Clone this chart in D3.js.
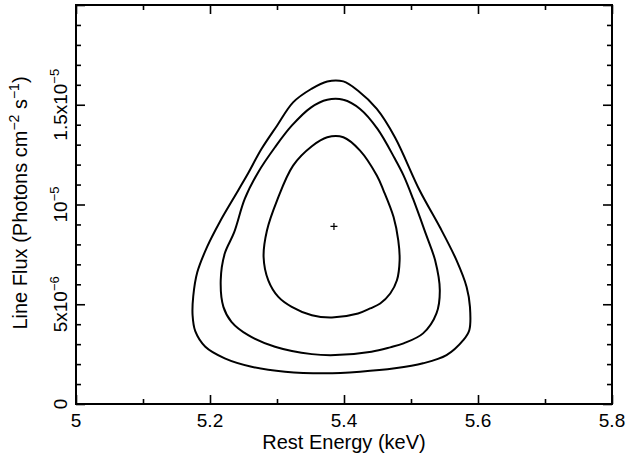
<!DOCTYPE html>
<html><head><meta charset="utf-8">
<script src="https://cdn.jsdelivr.net/npm/d3@7"></script>
<style>body{margin:0;background:#fff} text{font-family:"Liberation Sans",Arial,sans-serif;fill:#000}</style>
</head><body><svg id="c" width="626" height="456"></svg>
<script>
// Contour points: [Rest Energy (keV), Line Flux (units of 1e-6 photons cm^-2 s^-1)]
const contourOuter = [[5.375,16.17],[5.399,16.17],[5.421,15.70],[5.449,14.79],[5.476,13.37],[5.513,10.70],[5.543,8.87],[5.568,7.20],[5.583,5.87],[5.588,4.87],[5.587,3.70],[5.578,3.20],[5.553,2.45],[5.518,2.04],[5.476,1.79],[5.424,1.62],[5.372,1.54],[5.312,1.62],[5.262,1.87],[5.222,2.29],[5.193,2.87],[5.178,3.65],[5.174,4.45],[5.175,5.40],[5.181,6.60],[5.196,7.90],[5.215,9.15],[5.234,10.25],[5.255,11.45],[5.277,12.79],[5.300,13.95],[5.324,15.12],[5.351,15.79]];
const contourMiddle = [[5.375,15.25],[5.399,15.25],[5.424,14.79],[5.450,13.79],[5.476,12.29],[5.489,11.45],[5.503,10.29],[5.522,8.54],[5.536,7.20],[5.543,5.70],[5.538,4.54],[5.518,3.54],[5.489,3.04],[5.469,2.84],[5.441,2.62],[5.387,2.45],[5.352,2.50],[5.297,2.87],[5.257,3.45],[5.232,4.12],[5.220,4.87],[5.216,6.20],[5.222,7.54],[5.236,8.60],[5.252,10.29],[5.272,11.62],[5.297,12.87],[5.322,13.95],[5.351,14.87]];
const contourInner = [[5.375,13.37],[5.399,13.37],[5.424,12.70],[5.449,11.45],[5.459,10.70],[5.474,9.37],[5.481,8.20],[5.483,7.20],[5.479,6.20],[5.469,5.54],[5.454,5.04],[5.439,4.79],[5.421,4.54],[5.382,4.34],[5.352,4.45],[5.322,4.87],[5.302,5.37],[5.287,6.20],[5.280,7.37],[5.285,8.70],[5.300,10.20],[5.324,11.95],[5.352,12.92]];
const bestFit = [5.385, 8.9];
const xTicks = [5, 5.2, 5.4, 5.6, 5.8];
const xTickLabels = ["5", "5.2", "5.4", "5.6", "5.8"];
const xMinorTicks = [5.1, 5.3, 5.5, 5.7];
const yTicks = [0, 5, 10, 15];
const yTickLabels = [["0", ""], ["5x10", "−6"], ["10", "−5"], ["1.5x10", "−5"]];
const yMinorTicks = [1,2,3,4,6,7,8,9,11,12,13,14,16,17,18,19];
const xTitle = "Rest Energy (keV)";
const yTitleParts = [["Line Flux (Photons cm", false], ["−2", true], [" s", false], ["−1", true], [")", false]];

const L = 76, R = 612, T = 5, B = 404;
const svg = d3.select("#c");
const x = d3.scaleLinear().domain([5, 5.8]).range([L, R]);
const y = d3.scaleLinear().domain([0, 20]).range([B, T]);

function ticks(axisFn, vals, size, transform) {
  const g = svg.append("g").attr("transform", transform)
    .call(axisFn.tickValues(vals).tickSize(size).tickFormat(""));
  g.select(".domain").remove();
  g.selectAll("line").attr("stroke", "#000").attr("stroke-width", 1.6);
}
ticks(d3.axisBottom(x), xTicks, -9, `translate(0,${B})`);
ticks(d3.axisBottom(x), xMinorTicks, -5, `translate(0,${B})`);
ticks(d3.axisTop(x), xTicks, -9, `translate(0,${T})`);
ticks(d3.axisTop(x), xMinorTicks, -5, `translate(0,${T})`);
ticks(d3.axisLeft(y), yTicks.concat([20]), -9, `translate(${L},0)`);
ticks(d3.axisLeft(y), yMinorTicks, -5, `translate(${L},0)`);
ticks(d3.axisRight(y), yTicks.concat([20]), -9, `translate(${R},0)`);
ticks(d3.axisRight(y), yMinorTicks, -5, `translate(${R},0)`);

svg.append("rect").attr("x", L).attr("y", T).attr("width", R - L).attr("height", B - T)
  .attr("fill", "none").attr("stroke", "#000").attr("stroke-width", 2);

// X tick labels
svg.selectAll(".xl").data(xTicks).enter().append("text")
  .attr("x", d => x(d)).attr("y", 427).attr("text-anchor", "middle")
  .attr("font-size", 19).text((d, i) => xTickLabels[i]);

// Y tick labels (rotated)
yTicks.forEach((v, i) => {
  const t = svg.append("text").attr("transform", `translate(67,${y(v)}) rotate(-90)`)
    .attr("text-anchor", "middle").attr("font-size", 19);
  t.append("tspan").text(yTickLabels[i][0]);
  if (yTickLabels[i][1]) t.append("tspan").attr("dy", -8).attr("font-size", 13).text(yTickLabels[i][1]);
});

// Titles
svg.append("text").attr("x", (L + R) / 2).attr("y", 449).attr("text-anchor", "middle")
  .attr("font-size", 20).text(xTitle);
const yt = svg.append("text").attr("transform", `translate(27,${203}) rotate(-90)`)
  .attr("text-anchor", "middle").attr("font-size", 20);
let up = false;
yTitleParts.forEach(([s, sup]) => {
  const ts = yt.append("tspan").text(s);
  if (sup && !up) { ts.attr("dy", -8).attr("font-size", 14); up = true; }
  else if (!sup && up) { ts.attr("dy", 8); up = false; }
});

// Contours
const line = d3.line().x(d => x(d[0])).y(d => y(d[1])).curve(d3.curveCatmullRomClosed.alpha(0.5));
[contourOuter, contourMiddle, contourInner].forEach(c => {
  svg.append("path").attr("d", line(c)).attr("fill", "none").attr("stroke", "#000").attr("stroke-width", 2);
});

// Best-fit cross
const cx = x(bestFit[0]), cy = y(bestFit[1]);
svg.append("path").attr("d", `M${cx - 3.5},${cy}H${cx + 3.5}M${cx},${cy - 3.5}V${cy + 3.5}`)
  .attr("stroke", "#000").attr("stroke-width", 1.2);
</script></body></html>
